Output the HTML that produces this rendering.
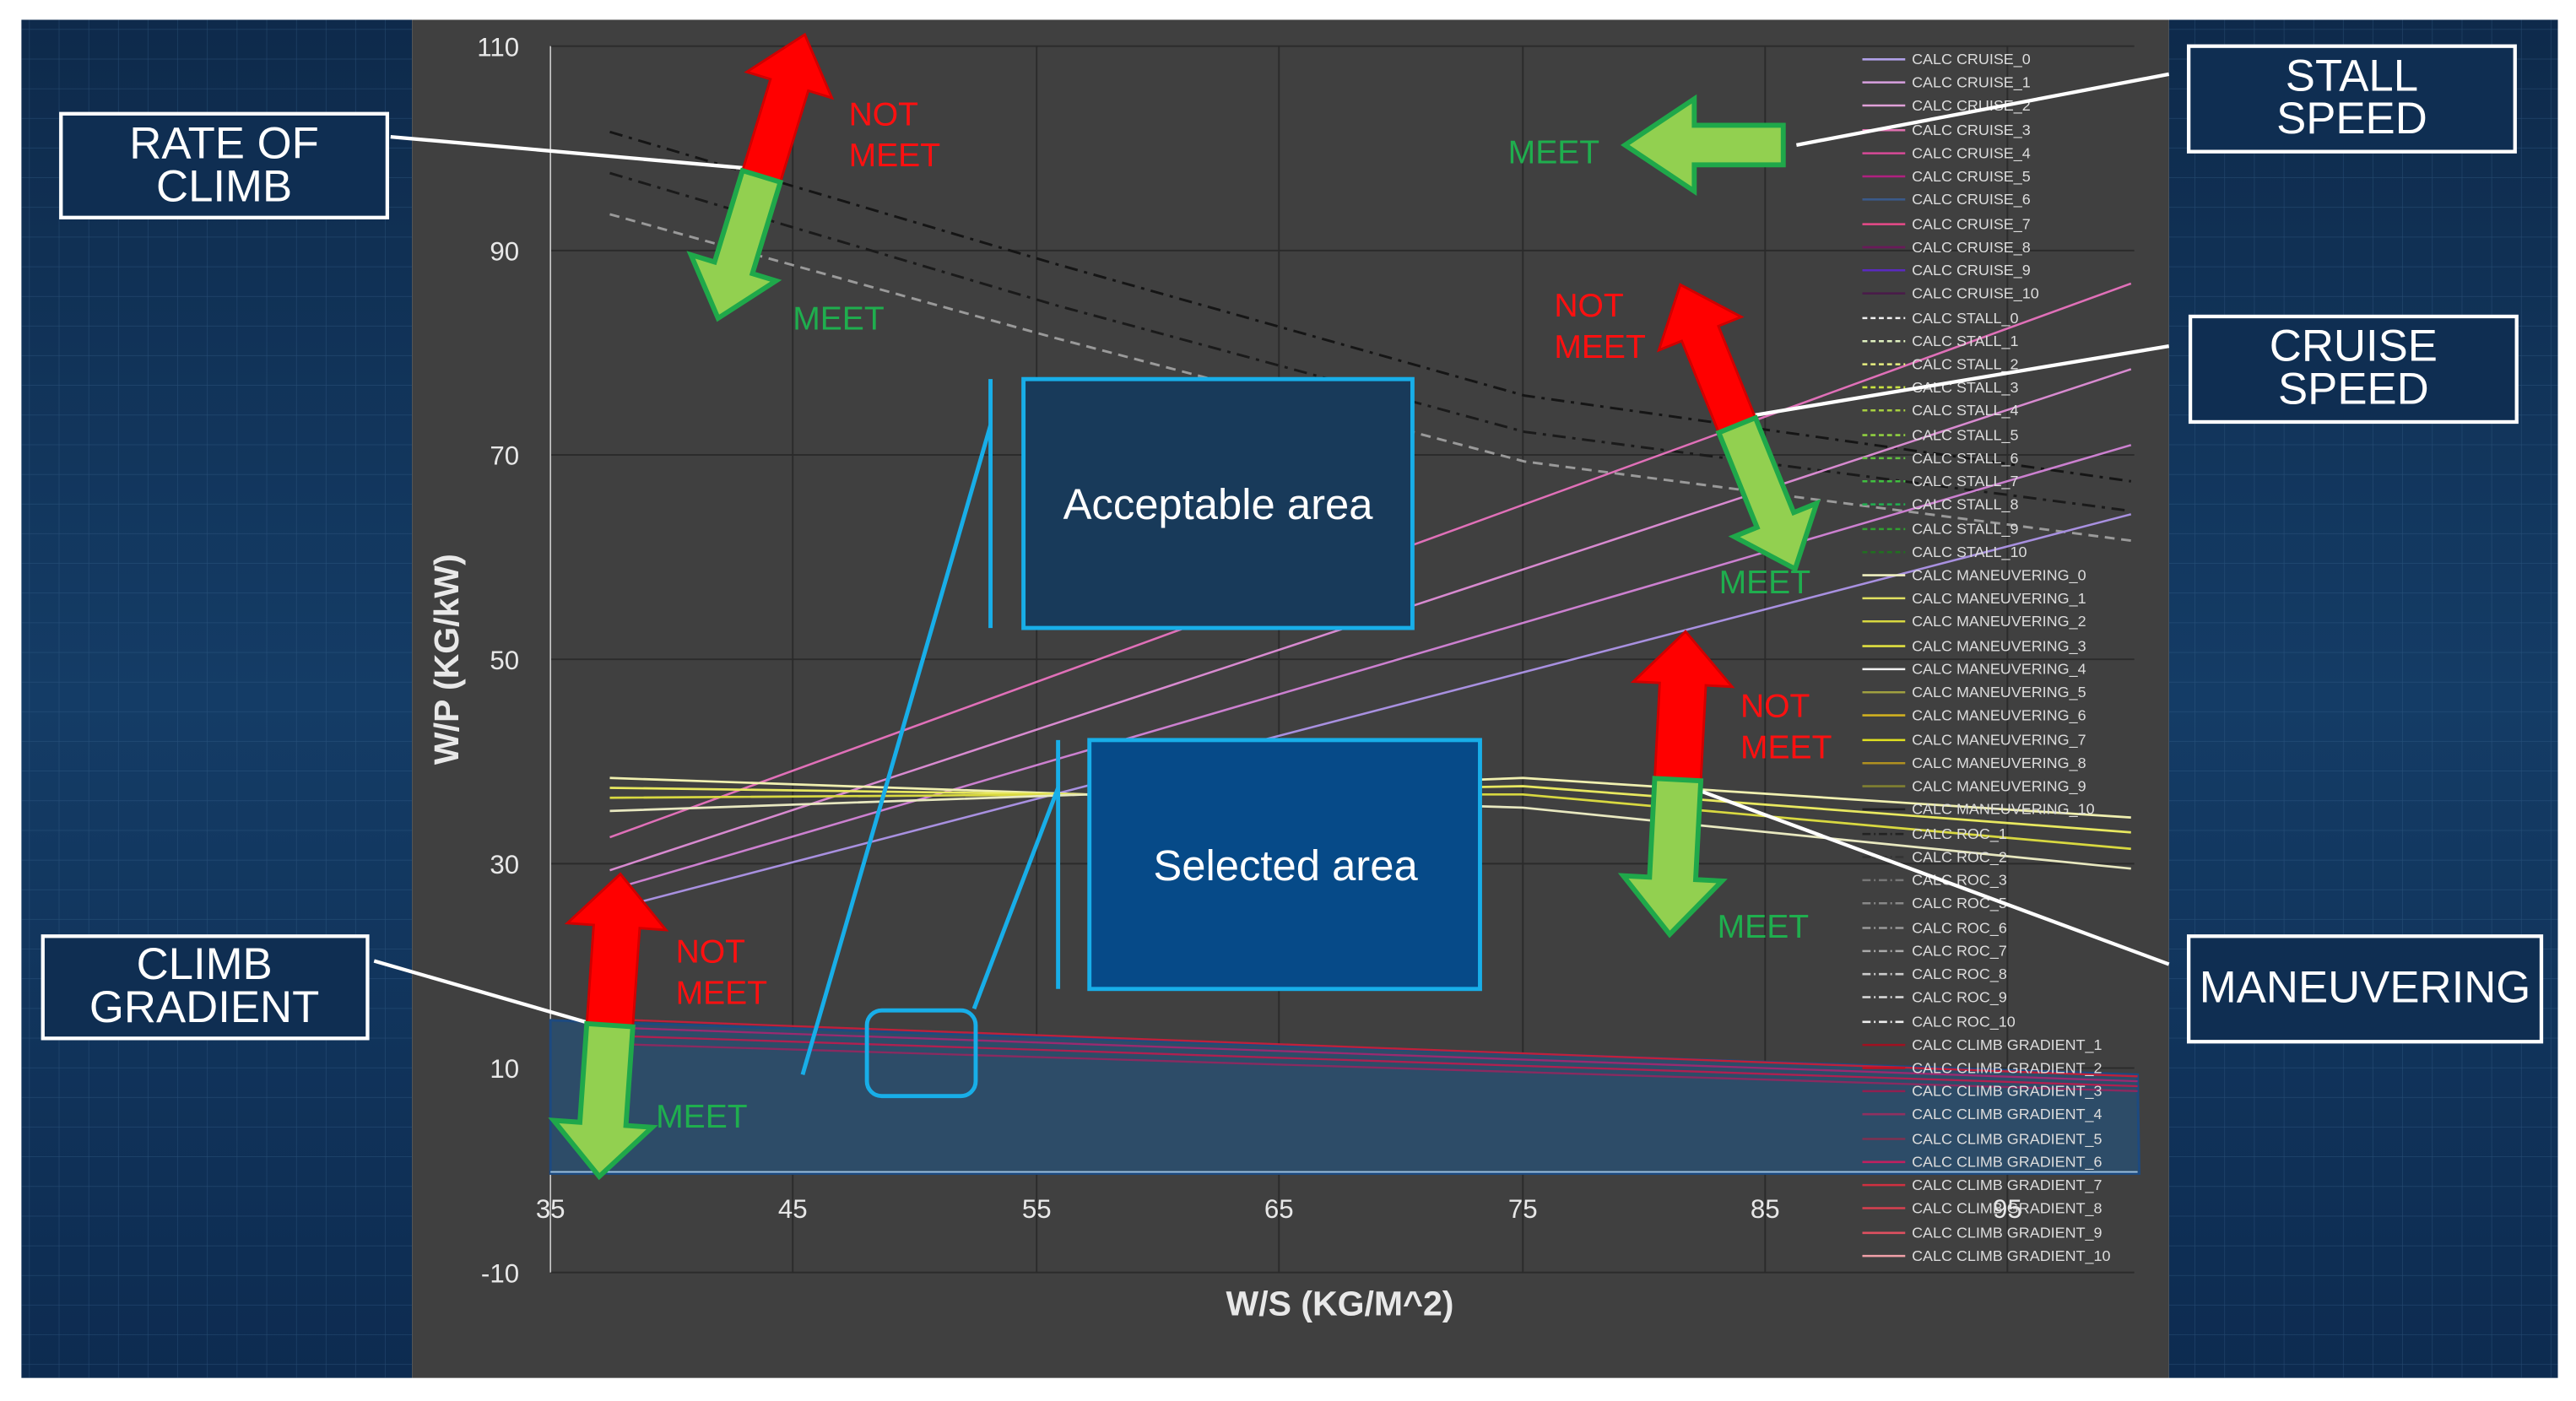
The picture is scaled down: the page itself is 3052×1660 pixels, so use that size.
<!DOCTYPE html>
<html><head><meta charset="utf-8"><style>
html,body{margin:0;padding:0;background:#fff}
svg{display:block}
text{font-family:"Liberation Sans",sans-serif}
.nar{font-family:"Liberation Sans Narrow","Liberation Sans",sans-serif}
</style></head><body>
<svg width="3052" height="1660" viewBox="0 0 1563 850" preserveAspectRatio="none" xmlns="http://www.w3.org/2000/svg">
<defs>
<pattern id="grid" width="18" height="18" patternUnits="userSpaceOnUse">
<path d="M18 0V18M0 18H18" stroke="#3f6a95" stroke-width="0.6" opacity="0.45" fill="none"/>
</pattern>
<linearGradient id="bg" x1="0" y1="0" x2="0" y2="1">
<stop offset="0" stop-color="#0e2a4b"/><stop offset="0.5" stop-color="#143c66"/><stop offset="1" stop-color="#0d2b50"/>
</linearGradient>
</defs>
<rect x="0" y="0" width="1563" height="850" fill="#fff"/>
<!-- side panels -->
<rect x="13" y="12" width="237" height="824" fill="url(#bg)"/>
<rect x="13" y="12" width="237" height="824" fill="url(#grid)"/>
<rect x="1316" y="12" width="236" height="824" fill="url(#bg)"/>
<rect x="1316" y="12" width="236" height="824" fill="url(#grid)"/>
<rect x="250" y="12" width="1066" height="824" fill="#404040"/>

<!-- gridlines -->
<g stroke="#2b2b2b" stroke-width="1">
<line x1="334" y1="28" x2="1295" y2="28"/><line x1="334" y1="152" x2="1295" y2="152"/>
<line x1="334" y1="276" x2="1295" y2="276"/><line x1="334" y1="400" x2="1295" y2="400"/>
<line x1="334" y1="524" x2="1295" y2="524"/><line x1="334" y1="648" x2="1295" y2="648"/>
<line x1="334" y1="772" x2="1295" y2="772"/>
<line x1="481" y1="28" x2="481" y2="772"/><line x1="629" y1="28" x2="629" y2="772"/>
<line x1="776" y1="28" x2="776" y2="772"/><line x1="924" y1="28" x2="924" y2="772"/>
<line x1="1071" y1="28" x2="1071" y2="772"/><line x1="1218" y1="28" x2="1218" y2="772"/>
</g>
<line x1="334" y1="28" x2="334" y2="772" stroke="#cfcfcf" stroke-width="0.8"/>

<!-- shaded area -->
<polygon points="334,619 1297,652 1298,712 334,712" fill="#2d4c68" stroke="#1d4a80" stroke-width="1.5"/>
<line x1="334" y1="711" x2="1297" y2="711" stroke="#9fc3e0" stroke-width="1"/>
<g stroke-width="1.2" fill="none">
<line x1="360" y1="618" x2="1297" y2="653" stroke="#c0203a"/>
<line x1="360" y1="623" x2="1297" y2="656" stroke="#9a2a70"/>
<line x1="360" y1="628" x2="1297" y2="659" stroke="#b02050"/>
<line x1="360" y1="633" x2="1297" y2="662" stroke="#8a2a60"/>
</g>

<!-- stall/roc dashed lines -->
<g fill="none" stroke-width="1.5">
<polyline points="370,80 640,160 925,240 1293,292" stroke="#151515" stroke-dasharray="8,4,2,4"/>
<polyline points="370,105 640,185 925,262 1293,310" stroke="#1a1a1a" stroke-dasharray="8,4,2,4"/>
<polyline points="370,130 640,205 925,280 1293,328" stroke="#9a9a9a" stroke-dasharray="6,4"/>
</g>

<!-- cruise lines -->
<g fill="none" stroke-width="1.3">
<line x1="370" y1="508" x2="1293" y2="172" stroke="#e070b8"/>
<line x1="370" y1="528" x2="1293" y2="224" stroke="#d88ad0"/>
<line x1="370" y1="540" x2="1293" y2="270" stroke="#cc80d0"/>
<line x1="370" y1="552" x2="1293" y2="312" stroke="#a890e0"/>
</g>

<!-- maneuvering lines -->
<g fill="none" stroke-width="1.4">
<polyline points="370,472 660,482 924,472 1293,496" stroke="#f0f0b0"/>
<polyline points="370,478 660,482 924,477 1293,505" stroke="#e8e860"/>
<polyline points="370,484 660,482 924,482 1293,515" stroke="#d8d840"/>
<polyline points="370,492 660,482 924,490 1293,527" stroke="#e8e8c0"/>
</g>

<!-- axis labels -->
<g fill="#e8e8e8" font-size="16" text-anchor="end" class="nar">
<text x="315" y="34">110</text><text x="315" y="158">90</text><text x="315" y="282">70</text>
<text x="315" y="406">50</text><text x="315" y="530">30</text><text x="315" y="654">10</text><text x="315" y="778">-10</text>
</g>
<g fill="#e8e8e8" font-size="16" text-anchor="middle" class="nar">
<text x="334" y="739">35</text><text x="481" y="739">45</text><text x="629" y="739">55</text>
<text x="776" y="739">65</text><text x="924" y="739">75</text><text x="1071" y="739">85</text><text x="1218" y="739">95</text>
</g>
<text x="813" y="798" fill="#e8e8e8" font-size="21" font-weight="bold" text-anchor="middle">W/S (KG/M^2)</text>
<text transform="translate(278,400) rotate(-90)" fill="#e8e8e8" font-size="21" font-weight="bold" text-anchor="middle">W/P (KG/kW)</text>

<!-- legend -->
<g font-size="9.2" fill="#dcdcdc" class="nar">
<g stroke-width="1.3">
<line x1="1130" y1="36" x2="1156" y2="36" stroke="#b0a0e8"/><line x1="1130" y1="50" x2="1156" y2="50" stroke="#d8a0e0"/>
<line x1="1130" y1="64" x2="1156" y2="64" stroke="#e0a0d8"/><line x1="1130" y1="79" x2="1156" y2="79" stroke="#e070b0"/>
<line x1="1130" y1="93" x2="1156" y2="93" stroke="#d84a98"/><line x1="1130" y1="107" x2="1156" y2="107" stroke="#b02080"/>
<line x1="1130" y1="121" x2="1156" y2="121" stroke="#3a5a8a"/><line x1="1130" y1="136" x2="1156" y2="136" stroke="#e84a8a"/>
<line x1="1130" y1="150" x2="1156" y2="150" stroke="#6a1a5a"/><line x1="1130" y1="164" x2="1156" y2="164" stroke="#5a2ac0"/>
<line x1="1130" y1="178" x2="1156" y2="178" stroke="#4a1a4a"/>
</g>
<g stroke-width="1.3" stroke-dasharray="3,2">
<line x1="1130" y1="193" x2="1156" y2="193" stroke="#f0f0f0"/><line x1="1130" y1="207" x2="1156" y2="207" stroke="#e0f0c0"/>
<line x1="1130" y1="221" x2="1156" y2="221" stroke="#e8f080"/><line x1="1130" y1="235" x2="1156" y2="235" stroke="#c8e040"/>
<line x1="1130" y1="249" x2="1156" y2="249" stroke="#a8d040"/><line x1="1130" y1="264" x2="1156" y2="264" stroke="#90d040"/>
<line x1="1130" y1="278" x2="1156" y2="278" stroke="#60c040"/><line x1="1130" y1="292" x2="1156" y2="292" stroke="#40c040"/>
<line x1="1130" y1="306" x2="1156" y2="306" stroke="#20b050"/><line x1="1130" y1="321" x2="1156" y2="321" stroke="#30a030"/>
<line x1="1130" y1="335" x2="1156" y2="335" stroke="#207020"/>
</g>
<g stroke-width="1.3">
<line x1="1130" y1="349" x2="1156" y2="349" stroke="#f0f0c0"/><line x1="1130" y1="363" x2="1156" y2="363" stroke="#e0e060"/>
<line x1="1130" y1="377" x2="1156" y2="377" stroke="#d8d840"/><line x1="1130" y1="392" x2="1156" y2="392" stroke="#e0e040"/>
<line x1="1130" y1="406" x2="1156" y2="406" stroke="#f0f0f0"/><line x1="1130" y1="420" x2="1156" y2="420" stroke="#a0a040"/>
<line x1="1130" y1="434" x2="1156" y2="434" stroke="#d0b020"/><line x1="1130" y1="449" x2="1156" y2="449" stroke="#e0e020"/>
<line x1="1130" y1="463" x2="1156" y2="463" stroke="#b09020"/><line x1="1130" y1="477" x2="1156" y2="477" stroke="#808030"/>
<line x1="1130" y1="491" x2="1156" y2="491" stroke="#202020"/>
</g>
<g stroke-width="1.3" stroke-dasharray="5,2,1,2">
<line x1="1130" y1="506" x2="1156" y2="506" stroke="#222"/><line x1="1130" y1="520" x2="1156" y2="520" stroke="#333"/>
<line x1="1130" y1="534" x2="1156" y2="534" stroke="#777"/><line x1="1130" y1="548" x2="1156" y2="548" stroke="#888"/>
<line x1="1130" y1="563" x2="1156" y2="563" stroke="#999"/><line x1="1130" y1="577" x2="1156" y2="577" stroke="#aaa"/>
<line x1="1130" y1="591" x2="1156" y2="591" stroke="#ccc"/><line x1="1130" y1="605" x2="1156" y2="605" stroke="#ddd"/>
<line x1="1130" y1="620" x2="1156" y2="620" stroke="#eee"/>
</g>
<g stroke-width="1.3">
<line x1="1130" y1="634" x2="1156" y2="634" stroke="#a01020"/><line x1="1130" y1="648" x2="1156" y2="648" stroke="#c01020"/>
<line x1="1130" y1="662" x2="1156" y2="662" stroke="#902050"/><line x1="1130" y1="676" x2="1156" y2="676" stroke="#903060"/>
<line x1="1130" y1="691" x2="1156" y2="691" stroke="#803050"/><line x1="1130" y1="705" x2="1156" y2="705" stroke="#c02060"/>
<line x1="1130" y1="719" x2="1156" y2="719" stroke="#d03040"/><line x1="1130" y1="733" x2="1156" y2="733" stroke="#d84050"/>
<line x1="1130" y1="748" x2="1156" y2="748" stroke="#e05060"/><line x1="1130" y1="762" x2="1156" y2="762" stroke="#f0a0a8"/>
</g>
<text x="1160" y="39">CALC CRUISE_0</text><text x="1160" y="53">CALC CRUISE_1</text><text x="1160" y="67">CALC CRUISE_2</text>
<text x="1160" y="82">CALC CRUISE_3</text><text x="1160" y="96">CALC CRUISE_4</text><text x="1160" y="110">CALC CRUISE_5</text>
<text x="1160" y="124">CALC CRUISE_6</text><text x="1160" y="139">CALC CRUISE_7</text><text x="1160" y="153">CALC CRUISE_8</text>
<text x="1160" y="167">CALC CRUISE_9</text><text x="1160" y="181">CALC CRUISE_10</text>
<text x="1160" y="196">CALC STALL_0</text><text x="1160" y="210">CALC STALL_1</text><text x="1160" y="224">CALC STALL_2</text>
<text x="1160" y="238">CALC STALL_3</text><text x="1160" y="252">CALC STALL_4</text><text x="1160" y="267">CALC STALL_5</text>
<text x="1160" y="281">CALC STALL_6</text><text x="1160" y="295">CALC STALL_7</text><text x="1160" y="309">CALC STALL_8</text>
<text x="1160" y="324">CALC STALL_9</text><text x="1160" y="338">CALC STALL_10</text>
<text x="1160" y="352">CALC MANEUVERING_0</text><text x="1160" y="366">CALC MANEUVERING_1</text><text x="1160" y="380">CALC MANEUVERING_2</text>
<text x="1160" y="395">CALC MANEUVERING_3</text><text x="1160" y="409">CALC MANEUVERING_4</text><text x="1160" y="423">CALC MANEUVERING_5</text>
<text x="1160" y="437">CALC MANEUVERING_6</text><text x="1160" y="452">CALC MANEUVERING_7</text><text x="1160" y="466">CALC MANEUVERING_8</text>
<text x="1160" y="480">CALC MANEUVERING_9</text><text x="1160" y="494">CALC MANEUVERING_10</text>
<text x="1160" y="509">CALC ROC_1</text><text x="1160" y="523">CALC ROC_2</text><text x="1160" y="537">CALC ROC_3</text>
<text x="1160" y="551">CALC ROC_5</text><text x="1160" y="566">CALC ROC_6</text><text x="1160" y="580">CALC ROC_7</text>
<text x="1160" y="594">CALC ROC_8</text><text x="1160" y="608">CALC ROC_9</text><text x="1160" y="623">CALC ROC_10</text>
<text x="1160" y="637">CALC CLIMB GRADIENT_1</text><text x="1160" y="651">CALC CLIMB GRADIENT_2</text><text x="1160" y="665">CALC CLIMB GRADIENT_3</text>
<text x="1160" y="679">CALC CLIMB GRADIENT_4</text><text x="1160" y="694">CALC CLIMB GRADIENT_5</text><text x="1160" y="708">CALC CLIMB GRADIENT_6</text>
<text x="1160" y="722">CALC CLIMB GRADIENT_7</text><text x="1160" y="736">CALC CLIMB GRADIENT_8</text><text x="1160" y="751">CALC CLIMB GRADIENT_9</text>
<text x="1160" y="765">CALC CLIMB GRADIENT_10</text>
</g>

<!-- blue annotation boxes -->
<g stroke="#18aee8" stroke-width="2.5" fill="none">
<line x1="601" y1="230" x2="601" y2="381"/>
<line x1="601" y1="258" x2="487" y2="652"/>
<line x1="642" y1="449" x2="642" y2="600"/>
<line x1="642" y1="478" x2="591" y2="612"/>
<rect x="526" y="613" width="66" height="52" rx="9"/>
</g>
<rect x="621" y="230" width="236" height="151" fill="#183a5a" stroke="#18aee8" stroke-width="2.5"/>
<text x="739" y="315" fill="#fff" font-size="26" text-anchor="middle">Acceptable area</text>
<rect x="661" y="449" width="237" height="151" fill="#064a88" stroke="#18aee8" stroke-width="2.5"/>
<text x="780" y="534" fill="#fff" font-size="26" text-anchor="middle">Selected area</text>

<!-- callout lines -->
<g stroke="#fff" stroke-width="2.2">
<line x1="237" y1="83" x2="452" y2="102"/>
<line x1="1316" y1="45" x2="1090" y2="88"/>
<line x1="1316" y1="210" x2="1064" y2="252"/>
<line x1="1316" y1="585" x2="1032" y2="480"/>
<line x1="227" y1="583" x2="362" y2="622"/>
</g>

<!-- callout boxes -->
<g fill="#0f2e52" stroke="#fff" stroke-width="2.2">
<rect x="37" y="69" width="198" height="63"/>
<rect x="1328" y="28" width="198" height="64"/>
<rect x="1329" y="192" width="198" height="64"/>
<rect x="1328" y="568" width="214" height="64"/>
<rect x="26" y="568" width="197" height="62"/>
</g>
<g fill="#fff" font-size="27" text-anchor="middle">
<text x="136" y="96">RATE OF</text><text x="136" y="122">CLIMB</text>
<text x="1427" y="55">STALL</text><text x="1427" y="81">SPEED</text>
<text x="1428" y="219">CRUISE</text><text x="1428" y="245">SPEED</text>
<text x="1435" y="608">MANEUVERING</text>
<text x="124" y="594">CLIMB</text><text x="124" y="620">GRADIENT</text>
</g>

<!-- arrows -->
<g>
<g transform="translate(462,107) rotate(17)">
<polygon points="-12,0 -12,-58 -27,-58 0,-90 27,-58 12,-58 12,0" fill="#ff0000" stroke="#d00000" stroke-width="1.5"/>
<polygon points="-12,0 -12,58 -27,58 0,90 27,58 12,58 12,0" fill="#92d050" stroke="#1fa84a" stroke-width="3"/>
</g>
<g transform="translate(1054,258) rotate(-22)">
<polygon points="-12,0 -12,-60 -27,-60 0,-92 27,-60 12,-60 12,0" fill="#ff0000" stroke="#d00000" stroke-width="1.5"/>
<polygon points="-12,0 -12,62 -27,62 0,94 27,62 12,62 12,0" fill="#92d050" stroke="#1fa84a" stroke-width="3"/>
</g>
<g transform="translate(1018,473) rotate(3)">
<polygon points="-14,0 -14,-58 -30,-58 0,-90 30,-58 14,-58 14,0" fill="#ff0000" stroke="#d00000" stroke-width="1.5"/>
<polygon points="-14,0 -14,60 -30,60 0,94 30,60 14,60 14,0" fill="#92d050" stroke="#1fa84a" stroke-width="3"/>
</g>
<g transform="translate(370,622) rotate(4)">
<polygon points="-14,0 -14,-60 -30,-60 0,-92 30,-60 14,-60 14,0" fill="#ff0000" stroke="#d00000" stroke-width="1.5"/>
<polygon points="-14,0 -14,60 -30,60 0,92 30,60 14,60 14,0" fill="#92d050" stroke="#1fa84a" stroke-width="3"/>
</g>
<g transform="translate(1082,88) rotate(90)">
<polygon points="-12,0 -12,54 -28,54 0,96 28,54 12,54 12,0" fill="#92d050" stroke="#1fa84a" stroke-width="3"/>
</g>
</g>

<!-- MEET / NOT MEET -->
<g font-size="20" class="nar">
<g fill="#ff1010">
<text x="515" y="76">NOT</text><text x="515" y="101">MEET</text>
<text x="943" y="192">NOT</text><text x="943" y="217">MEET</text>
<text x="1056" y="435">NOT</text><text x="1056" y="460">MEET</text>
<text x="410" y="584">NOT</text><text x="410" y="609">MEET</text>
</g>
<g fill="#1fae4e">
<text x="481" y="200">MEET</text>
<text x="915" y="99">MEET</text>
<text x="1043" y="360">MEET</text>
<text x="1042" y="569">MEET</text>
<text x="398" y="684">MEET</text>
</g>
</g>
</svg>
</body></html>
